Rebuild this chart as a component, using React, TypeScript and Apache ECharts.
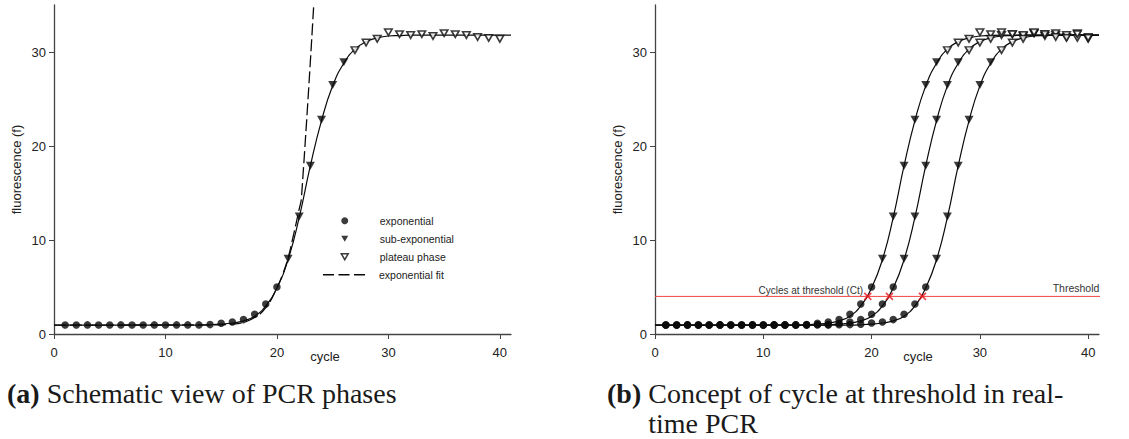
import React, { useEffect, useRef } from 'react';
import * as echarts from 'echarts';

const range = (a: number, b: number) => {
  const r: number[] = [];
  for (let i = a; i <= b; i++) r.push(i);
  return r;
};

// ---------- Panel (a): one reaction ----------
const expCycles = range(1, 20);
const expValues = [0.95, 0.95, 0.97, 0.95, 0.95, 0.97, 0.95, 0.95, 0.97, 0.95, 0.97, 0.97, 0.97, 1.0, 1.15, 1.28, 1.53, 2.1, 3.2, 5.0];
const subCycles = range(21, 26);
const subValues = [8.0, 12.5, 17.9, 22.8, 26.5, 28.9];
const plateauCycles = range(27, 40);
const plateauValues = [30.2, 31.0, 31.4, 32.1, 31.9, 31.8, 31.9, 31.7, 32.0, 31.9, 31.8, 31.6, 31.5, 31.4];
const fitCycles = range(0, 41);
const fitValues = [
  0.95, 0.95, 0.95, 0.95, 0.95, 0.95, 0.95, 0.95, 0.95, 0.95, 0.95, 0.95, 0.95, 0.95,
  0.98, 1.05, 1.17, 1.4, 1.9, 3.0, 4.9, 7.9, 12.4, 17.9, 22.7, 26.4, 28.8, 30.3, 31.1, 31.5, 31.7, 31.75,
  31.8, 31.8, 31.8, 31.8, 31.8, 31.8, 31.8, 31.8, 31.8, 31.8,
];
const expFitCycles = [0, 14, 16, 17, 18, 19, 20, 20.5, 21, 21.5, 22, 22.2, 23.35];
const expFitValues = [0.95, 0.97, 1.05, 1.25, 1.75, 2.8, 4.9, 6.3, 8.1, 10.6, 13.3, 14.5, 36];

// ---------- Panel (b): three reactions ----------
const expCyclesB = range(1, 22);
const expValuesB = [0.95, 0.95, 0.97, 0.95, 0.95, 0.97, 0.95, 0.95, 0.97, 0.95, 0.97, 0.97, 0.97, 0.97, 0.98, 1.0, 1.15, 1.28, 1.53, 2.1, 3.2, 5.0];
const subCyclesB = range(23, 28);
const subValuesB = [8.0, 12.5, 17.9, 22.8, 26.5, 28.9];
const plateauCyclesB = range(29, 40);
const plateauValuesB = [30.2, 31.0, 31.4, 32.1, 31.9, 31.8, 32.0, 31.7, 32.0, 31.8, 32.0, 31.6];
const fitValuesB = [
  0.95, 0.95, 0.95, 0.95, 0.95, 0.95, 0.95, 0.95, 0.95, 0.95, 0.95, 0.95, 0.95, 0.95, 0.95, 0.95,
  0.98, 1.05, 1.17, 1.4, 1.9, 3.0, 4.9, 7.9, 12.4, 17.9, 22.7, 26.4, 28.8, 30.3, 31.1, 31.5, 31.7, 31.75,
  31.8, 31.8, 31.8, 31.8, 31.8, 31.8, 31.8, 31.8,
];

const expCyclesC = range(1, 25);
const expValuesC = [0.95, 0.95, 0.97, 0.95, 0.95, 0.97, 0.95, 0.95, 0.97, 0.95, 0.97, 0.97, 0.97, 0.97, 0.98, 0.97, 0.98, 1.0, 1.05, 1.17, 1.28, 1.53, 2.1, 3.2, 5.0];
const subCyclesC = range(26, 31);
const subValuesC = [8.0, 12.5, 17.9, 22.8, 26.5, 28.9];
const plateauCyclesC = range(32, 40);
const plateauValuesC = [30.2, 31.0, 31.4, 32.1, 31.9, 31.6, 31.5, 31.9, 31.5];
const fitValuesC = [
  0.95, 0.95, 0.95, 0.95, 0.95, 0.95, 0.95, 0.95, 0.95, 0.95, 0.95, 0.95, 0.95, 0.95, 0.95, 0.95, 0.95, 0.95, 0.95,
  0.98, 1.05, 1.17, 1.4, 1.9, 3.0, 4.9, 7.9, 12.4, 17.9, 22.7, 26.4, 28.8, 30.3, 31.1, 31.5, 31.7, 31.75,
  31.8, 31.8, 31.8, 31.8, 31.8,
];

const threshold = 4;
const thresholdEnd = 42.8;
const ctCycles = [19.65, 21.65, 24.7];

const xTicks = [0, 10, 20, 30, 40];
const yTicks = [0, 10, 20, 30];

const legendNames = ['exponential', 'sub-exponential', 'plateau phase', 'exponential fit'];

const pairs = (xs: number[], ys: number[]) => xs.map((x, i) => [x, ys[i]]);

const INK = '#0a0a0a';
const SANS = 'Liberation Sans';
const SERIF = 'Liberation Serif';
const DOWN_TRI = 'path://M0,0L10,0L5,8.7Z';
const DASHES = 'path://M0,0H11V1.5H0Z M15.5,0H26.5V1.5H15.5Z M31,0H42V1.5H31Z';

function fitLine(name: string, idx: number, data: number[][], dashed = false) {
  return {
    type: 'line',
    name,
    xAxisIndex: idx,
    yAxisIndex: idx,
    data,
    symbol: 'none',
    showSymbol: false,
    smooth: 0.5,
    silent: true,
    color: INK,
    lineStyle: { color: INK, width: dashed ? 1.3 : 1.2, type: dashed ? [12, 4] : 'solid' },
    z: 2,
  };
}

function marks(name: string, idx: number, data: number[][], kind: 'circle' | 'tri' | 'open') {
  const base: any = {
    type: 'scatter',
    name,
    xAxisIndex: idx,
    yAxisIndex: idx,
    data,
    silent: true,
    z: 3,
  };
  if (kind === 'circle') {
    base.symbol = 'circle';
    base.symbolSize = 7.5;
    base.itemStyle = { color: INK };
  } else if (kind === 'tri') {
    base.symbol = 'triangle';
    base.symbolRotate = 180;
    base.symbolSize = [9, 8];
    base.itemStyle = { color: INK };
  } else {
    base.symbol = 'triangle';
    base.symbolRotate = 180;
    base.symbolSize = [7.5, 6.5];
    base.itemStyle = { color: '#fff', borderColor: INK, borderWidth: 1.6 };
  }
  return base;
}

function measure(text: string, font: string) {
  const c = document.createElement('canvas').getContext('2d');
  if (!c) return 0;
  c.font = font;
  return c.measureText(text).width;
}

export default function App() {
  const ref = useRef<HTMLDivElement>(null);

  useEffect(() => {
    if (!ref.current) return;
    const chart = echarts.init(ref.current, null, { renderer: 'svg' });

    const axisLine = { lineStyle: { color: '#444', width: 1.3 } };
    const tickStyle = { color: '#444', width: 1 };
    const labelStyle = { color: '#222', fontSize: 13, fontFamily: SANS };

    const makeX = (gridIndex: number) => ({
      type: 'value',
      gridIndex,
      min: 0,
      max: 41,
      axisLine,
      axisTick: { show: true, length: 5, lineStyle: tickStyle, customValues: xTicks },
      axisLabel: { ...labelStyle, margin: 12, customValues: xTicks },
      splitLine: { show: false },
    });
    const makeY = (gridIndex: number) => ({
      type: 'value',
      gridIndex,
      min: 0,
      max: 35,
      name: 'fluorescence (f)',
      nameLocation: 'middle',
      nameRotate: 90,
      nameGap: 31,
      nameTextStyle: { color: '#222', fontSize: 13, fontFamily: SANS },
      axisLine: { ...axisLine, onZero: false },
      axisTick: { show: true, length: 5, lineStyle: tickStyle, customValues: yTicks },
      axisLabel: { ...labelStyle, margin: 8, customValues: yTicks },
      splitLine: { show: false },
    });

    const capSize = 28;
    const capB = 607;
    const indent = measure('(b)', `bold ${capSize}px "${SERIF}"`) + measure(' ', `${capSize}px "${SERIF}"`);
    const legendText = { color: '#222', fontSize: 10.5, fontFamily: SANS };

    const series: any[] = [
      // panel (a)
      fitLine('fit a', 0, pairs(fitCycles, fitValues)),
      fitLine('exponential fit', 0, pairs(expFitCycles, expFitValues), true),
      marks('exponential', 0, pairs(expCycles, expValues), 'circle'),
      marks('sub-exponential', 0, pairs(subCycles, subValues), 'tri'),
      marks('plateau phase', 0, pairs(plateauCycles, plateauValues), 'open'),
      // panel (b)
      fitLine('fit A', 1, pairs(fitCycles, fitValues)),
      fitLine('fit B', 1, pairs(fitCycles, fitValuesB)),
      fitLine('fit C', 1, pairs(fitCycles, fitValuesC)),
      marks('exp A', 1, pairs(expCycles, expValues), 'circle'),
      marks('sub A', 1, pairs(subCycles, subValues), 'tri'),
      marks('plat A', 1, pairs(plateauCycles, plateauValues), 'open'),
      marks('exp B', 1, pairs(expCyclesB, expValuesB), 'circle'),
      marks('sub B', 1, pairs(subCyclesB, subValuesB), 'tri'),
      marks('plat B', 1, pairs(plateauCyclesB, plateauValuesB), 'open'),
      marks('exp C', 1, pairs(expCyclesC, expValuesC), 'circle'),
      marks('sub C', 1, pairs(subCyclesC, subValuesC), 'tri'),
      marks('plat C', 1, pairs(plateauCyclesC, plateauValuesC), 'open'),
      {
        type: 'line',
        name: 'Threshold',
        xAxisIndex: 1,
        yAxisIndex: 1,
        data: [[0, threshold], [thresholdEnd, threshold]],
        clip: false,
        symbol: 'none',
        silent: true,
        lineStyle: { color: '#f04444', width: 1 },
        z: 2,
      },
      {
        type: 'scatter',
        name: 'Ct',
        xAxisIndex: 1,
        yAxisIndex: 1,
        data: ctCycles.map((c) => [c, threshold]),
        symbol: 'path://M0,0L10,10M10,0L0,10',
        symbolSize: 7,
        silent: true,
        itemStyle: { color: 'none', borderColor: '#e8141c', borderWidth: 1.6 },
        z: 4,
      },
    ];

    chart.setOption({
      animation: false,
      backgroundColor: '#fff',
      grid: [
        { left: 54, top: 5, width: 457, height: 329, outerBoundsMode: 'none' },
        { left: 655, top: 5, width: 444, height: 329, outerBoundsMode: 'none' },
      ],
      xAxis: [makeX(0), makeX(1)],
      yAxis: [makeY(0), makeY(1)],
      legend: [
        {
          show: true,
          orient: 'vertical',
          left: 340.5,
          top: 215.2,
          padding: 0,
          itemWidth: 7,
          itemHeight: 7,
          itemGap: 7,
          selectedMode: false,
          textStyle: { ...legendText, padding: [0, 0, 0, 26.5] },
          data: [
            { name: legendNames[0], icon: 'circle', itemStyle: { color: INK, borderWidth: 0 } },
            { name: legendNames[1], icon: DOWN_TRI, itemStyle: { color: INK, borderWidth: 0 } },
            { name: legendNames[2], icon: DOWN_TRI, itemStyle: { color: '#fff', borderColor: INK, borderWidth: 1.5 } },
          ],
        },
        {
          show: true,
          orient: 'vertical',
          left: 323,
          top: 269.2,
          padding: 0,
          itemWidth: 42,
          itemHeight: 2,
          selectedMode: false,
          textStyle: { ...legendText, padding: [0, 0, 0, 9] },
          data: [{ name: legendNames[3], icon: DASHES, itemStyle: { color: INK, borderWidth: 0 } }],
        },
      ],
      graphic: [
        { type: 'text', x: 325, y: 356, style: { text: 'cycle', fill: '#222', fontSize: 13, fontFamily: SANS, align: 'center', verticalAlign: 'middle' } },
        { type: 'text', x: 918, y: 356, style: { text: 'cycle', fill: '#222', fontSize: 13, fontFamily: SANS, align: 'center', verticalAlign: 'middle' } },
        { type: 'text', x: 863, y: 290, style: { text: 'Cycles at threshold (Ct)', fill: '#333', fontSize: 10, fontFamily: SANS, align: 'right', verticalAlign: 'middle' } },
        { type: 'text', x: 1076, y: 288, style: { text: 'Threshold', fill: '#333', fontSize: 10.5, fontFamily: SANS, align: 'center', verticalAlign: 'middle' } },
        {
          type: 'text',
          x: 7,
          y: 393,
          style: {
            text: '{b|(a)} Schematic view of PCR phases',
            rich: { b: { fontWeight: 'bold', fontSize: capSize, fontFamily: SERIF, fill: '#1a1a1a' } },
            fill: '#1a1a1a',
            fontSize: capSize,
            fontFamily: SERIF,
            verticalAlign: 'middle',
          },
        },
        {
          type: 'text',
          x: capB,
          y: 393,
          style: {
            text: '{b|(b)} Concept of cycle at threshold in real-',
            rich: { b: { fontWeight: 'bold', fontSize: capSize, fontFamily: SERIF, fill: '#1a1a1a' } },
            fill: '#1a1a1a',
            fontSize: capSize,
            fontFamily: SERIF,
            verticalAlign: 'middle',
          },
        },
        {
          type: 'text',
          x: capB + indent,
          y: 423,
          style: { text: 'time PCR', fill: '#1a1a1a', fontSize: capSize, fontFamily: SERIF, verticalAlign: 'middle' },
        },
      ],
      series,
    });

    return () => chart.dispose();
  }, []);

  return (
    <div
      ref={ref}
      style={{ position: 'absolute', left: 0, top: 0, width: 1129, height: 439, background: '#fff' }}
    />
  );
}
